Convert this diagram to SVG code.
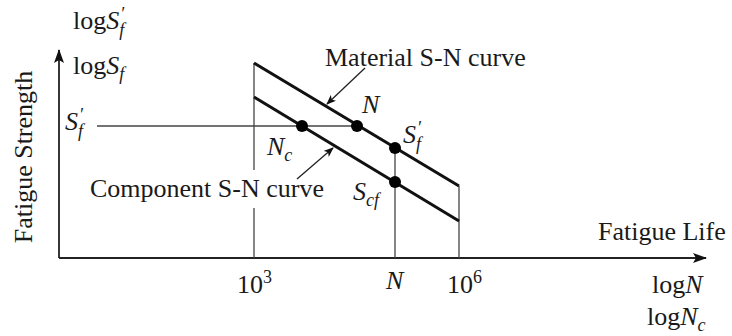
<svg xmlns="http://www.w3.org/2000/svg" width="732" height="336" viewBox="0 0 732 336">
<defs>
<marker id="ah" viewBox="0 0 10 8" refX="9" refY="4" markerWidth="10" markerHeight="8" markerUnits="userSpaceOnUse" orient="auto">
<path d="M0,0 L10,4 L0,8 L2.5,4 Z" fill="#111"/>
</marker>
<marker id="axh" viewBox="0 0 14 10" refX="13" refY="5" markerWidth="14" markerHeight="10" markerUnits="userSpaceOnUse" orient="auto">
<path d="M0,0 L14,5 L0,10 L3,5 Z" fill="#111"/>
</marker>
</defs>
<style>
text{font-family:"Liberation Serif","Times New Roman",serif;font-size:26px;fill:#1a1a1a}
.it{font-style:italic}
.sm{font-size:18px}
.thin{stroke:#444;stroke-width:1.3;fill:none}
.axis{stroke:#222;stroke-width:1.8;fill:none}
.thick{stroke:#111;stroke-width:3;fill:none}
.lead{stroke:#222;stroke-width:1.3;fill:none}
.dot{fill:#000}
</style>
<rect width="732" height="336" fill="#fff"/>
<g id="connectors">
<line class="axis" x1="59" y1="258" x2="59" y2="50" marker-end="url(#axh)"/>
<line class="axis" x1="59" y1="258" x2="706" y2="258" marker-end="url(#axh)"/>
<line class="thin" x1="254" y1="63" x2="254" y2="170"/>
<line class="thin" x1="254" y1="208" x2="254" y2="258"/>
<line class="thin" x1="395" y1="148" x2="395" y2="258"/>
<line class="thin" x1="459" y1="186" x2="459" y2="258"/>
<line class="thin" x1="97" y1="126" x2="357" y2="126"/>
<line class="thick" x1="254" y1="63" x2="459" y2="186"/>
<line class="thick" x1="254" y1="97" x2="459" y2="221"/>
<line class="lead" x1="365" y1="68" x2="327" y2="104" marker-end="url(#ah)"/>
<line class="lead" x1="297" y1="179" x2="333" y2="148" marker-end="url(#ah)"/>
</g>
<g id="points">
<circle class="dot" cx="302" cy="126" r="6"/>
<circle class="dot" cx="357" cy="126" r="6"/>
<circle class="dot" cx="395" cy="148" r="6"/>
<circle class="dot" cx="395" cy="182" r="6"/>
</g>
<g id="y-axis-labels">
<text x="73" y="29">log<tspan class="it">S</tspan><tspan class="it sm" dx="1" dy="-9">′</tspan><tspan class="it sm" dx="-5" dy="16">f</tspan></text>
<text x="73" y="74">log<tspan class="it">S</tspan><tspan class="it sm" dx="0" dy="6">f</tspan></text>
<text x="65" y="130" class="it">S<tspan class="sm" dx="1" dy="-9">′</tspan><tspan class="sm" dx="-5" dy="16">f</tspan></text>
<text transform="translate(32,157) rotate(-90)" text-anchor="middle">Fatigue Strength</text>
</g>
<g id="material-label">
<text x="325" y="66">Material S-N curve</text>
</g>
<g id="component-label">
<text x="90" y="197">Component S-N curve</text>
</g>
<g id="point-labels">
<text x="362" y="113" class="it">N</text>
<text x="403" y="143" class="it">S<tspan class="sm" dx="1" dy="-9">′</tspan><tspan class="sm" dx="-5" dy="16">f</tspan></text>
<text x="267" y="155" class="it">N<tspan class="sm" dy="6">c</tspan></text>
<text x="353" y="200" class="it">S<tspan class="sm" dy="6">cf</tspan></text>
</g>
<g id="x-axis-labels">
<text x="598" y="240">Fatigue Life</text>
<text x="237" y="293">10<tspan class="sm" dy="-10">3</tspan></text>
<text x="386" y="289" class="it">N</text>
<text x="447" y="293">10<tspan class="sm" dy="-10">6</tspan></text>
<text x="652" y="293">log<tspan class="it">N</tspan></text>
<text x="647" y="325">log<tspan class="it">N</tspan><tspan class="it sm" dy="6">c</tspan></text>
</g>
</svg>
